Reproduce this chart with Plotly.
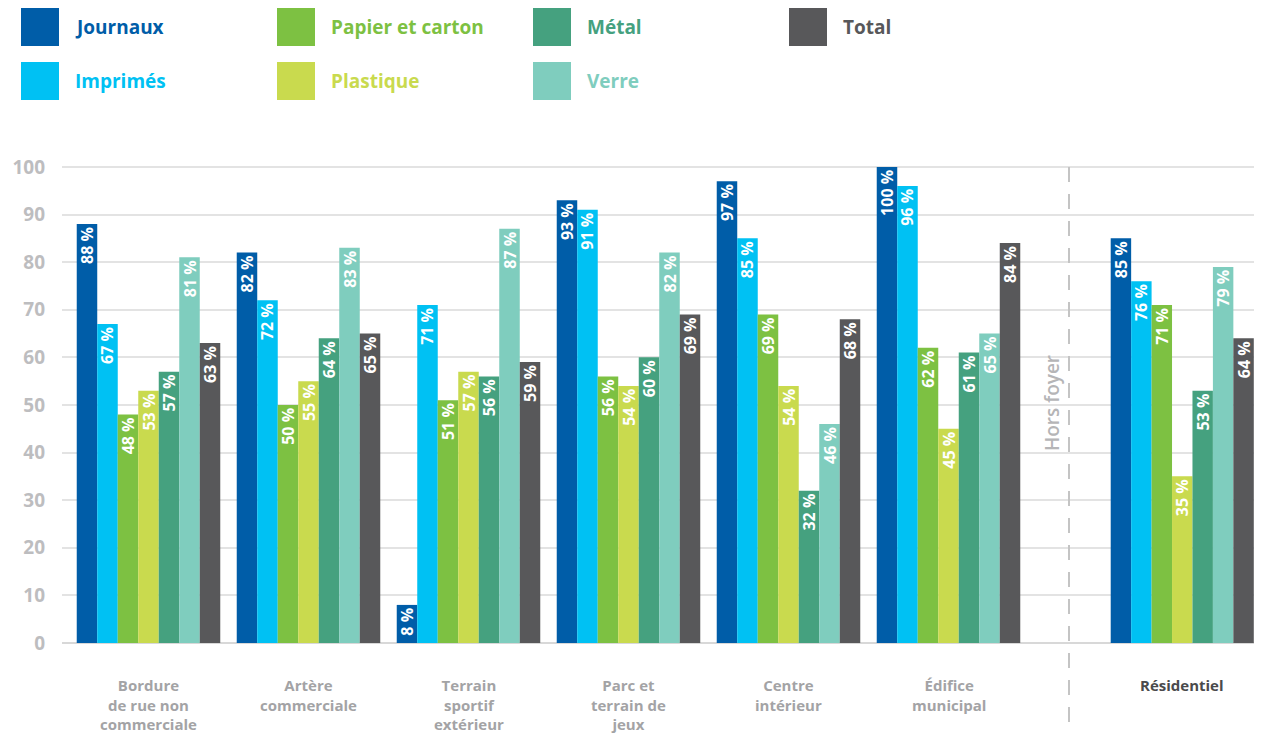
import plotly.graph_objects as go

categories = ["Bordure<br>de rue non<br>commerciale", "Artère<br>commerciale",
              "Terrain<br>sportif<br>extérieur", "Parc et<br>terrain de<br>jeux",
              "Centre<br>intérieur", "Édifice<br>municipal"]
category_res = ["Résidentiel"]

series_names = ["Journaux", "Imprimés", "Papier et carton", "Plastique", "Métal", "Verre", "Total"]
series_colors = ["#005DA8", "#00C1F3", "#7DC142", "#C9DA4E", "#45A17F", "#7FCDBE", "#58585A"]

journaux = [88, 82, 8, 93, 97, 100]
imprimes = [67, 72, 71, 91, 85, 96]
papier = [48, 50, 51, 56, 69, 62]
plastique = [53, 55, 57, 54, 54, 45]
metal = [57, 64, 56, 60, 32, 61]
verre = [81, 83, 87, 82, 46, 65]
total = [63, 65, 59, 69, 68, 84]

residentiel = [85, 76, 71, 35, 53, 79, 64]

hors_series = [journaux, imprimes, papier, plastique, metal, verre, total]

# page body has an 8px margin: work in reference pixels, shift by OFF
OFF = 8
W, H = 1262 - OFF, 734 - OFF
L, R, T, B = 62 - OFF, 0, 165 - OFF, 91
pw, ph = W - L - R, H - T - B


def px(x):
    return (x - OFF - L) / pw


def py(y):
    return (H - B - (y - OFF)) / ph


FONT = "Open Sans"
fig = go.Figure()

for name, color, vals, rv in zip(series_names, series_colors, hors_series, residentiel):
    fig.add_trace(go.Bar(
        x=categories, y=vals, name=name, marker_color=color, marker_line_width=0,
        text=[f"{v} %" for v in vals], textposition="inside", insidetextanchor="end",
        textangle=-90, textfont=dict(color="white", size=16, family=FONT, weight="bold"),
        xaxis="x", yaxis="y", showlegend=False, hoverinfo="skip"))
    fig.add_trace(go.Bar(
        x=category_res, y=[rv], name=name, marker_color=color, marker_line_width=0,
        text=[f"{rv} %"], textposition="inside", insidetextanchor="end",
        textangle=-90, textfont=dict(color="white", size=16, family=FONT, weight="bold"),
        xaxis="x2", yaxis="y2", showlegend=False, hoverinfo="skip"))

split = px(1102.5)
left0 = -(148.5 - 62) / 160.0
right0 = left0 + (1102.5 - 62) / 160.0

grid_col = "#e3e3e3"
fig.update_layout(
    width=W, height=H, margin=dict(l=L, r=R, t=T, b=B, pad=0),
    plot_bgcolor="white", paper_bgcolor="white",
    barmode="group", bargap=0.103, bargroupgap=0,
    uniformtext=dict(minsize=16, mode="show"),
    font=dict(family=FONT),
    xaxis=dict(domain=[0, split], range=[left0, right0], showgrid=False, showline=False,
               zeroline=False, showticklabels=False),
    xaxis2=dict(domain=[split, 1], range=[-0.5, 0.5], anchor="y2", showgrid=False,
                showline=False, zeroline=False, showticklabels=False),
    yaxis=dict(range=[0, 100.4], tickvals=list(range(0, 101, 10)), showgrid=True,
               gridcolor=grid_col, gridwidth=1.5, zeroline=True, zerolinecolor="#d8d8d8",
               zerolinewidth=2, ticklabelstandoff=16,
               tickfont=dict(size=19, color="#BDBDBF", family=FONT, weight="bold")),
    yaxis2=dict(range=[0, 100.4], matches="y", anchor="x2", tickvals=list(range(0, 101, 10)),
                showgrid=True, gridcolor=grid_col, gridwidth=1.5, zeroline=True,
                zerolinecolor="#d8d8d8", zerolinewidth=2, showticklabels=False),
)

shapes = []
annotations = []
# legend
col_x = [21, 277, 533, 789]
row_y = [8, 62]
sq = 38
for i, (name, color) in enumerate(zip(series_names, series_colors)):
    cx = col_x[i // 2]
    ry = row_y[i % 2]
    shapes.append(dict(type="rect", xref="paper", yref="paper",
                       x0=px(cx), x1=px(cx + sq), y0=py(ry + sq), y1=py(ry),
                       fillcolor=color, line=dict(width=0)))
    annotations.append(dict(text=name, xref="paper", yref="paper", x=px(cx + 52),
                            y=py(ry + sq / 2), xanchor="left", yanchor="middle",
                            showarrow=False,
                            font=dict(size=19, color=color, family=FONT, weight="bold")))

# category labels
for axis_ref, cats, col in (("x", categories, "#A3A3A5"), ("x2", category_res, "#4A4A4C")):
    for cat in cats:
        annotations.append(dict(text=cat, xref=axis_ref, yref="paper", x=cat,
                                y=py(673), xanchor="center", yanchor="top",
                                showarrow=False, align="center",
                                font=dict(size=15, color=col, family=FONT, weight="bold")))

# separator
shapes.append(dict(type="line", xref="paper", yref="paper", x0=px(1069), x1=px(1069),
                   y0=py(167), y1=py(740), line=dict(color="#C4C4C4", width=2, dash="15px,12px")))
annotations.append(dict(text="Hors foyer", xref="paper", yref="paper", x=px(1052), y=py(403),
                        textangle=-90, showarrow=False, xanchor="center", yanchor="middle",
                        font=dict(size=19, color="#B5B5B7", family=FONT, weight=600)))

fig.update_layout(shapes=shapes, annotations=annotations)
fig.write_html("out.html")
